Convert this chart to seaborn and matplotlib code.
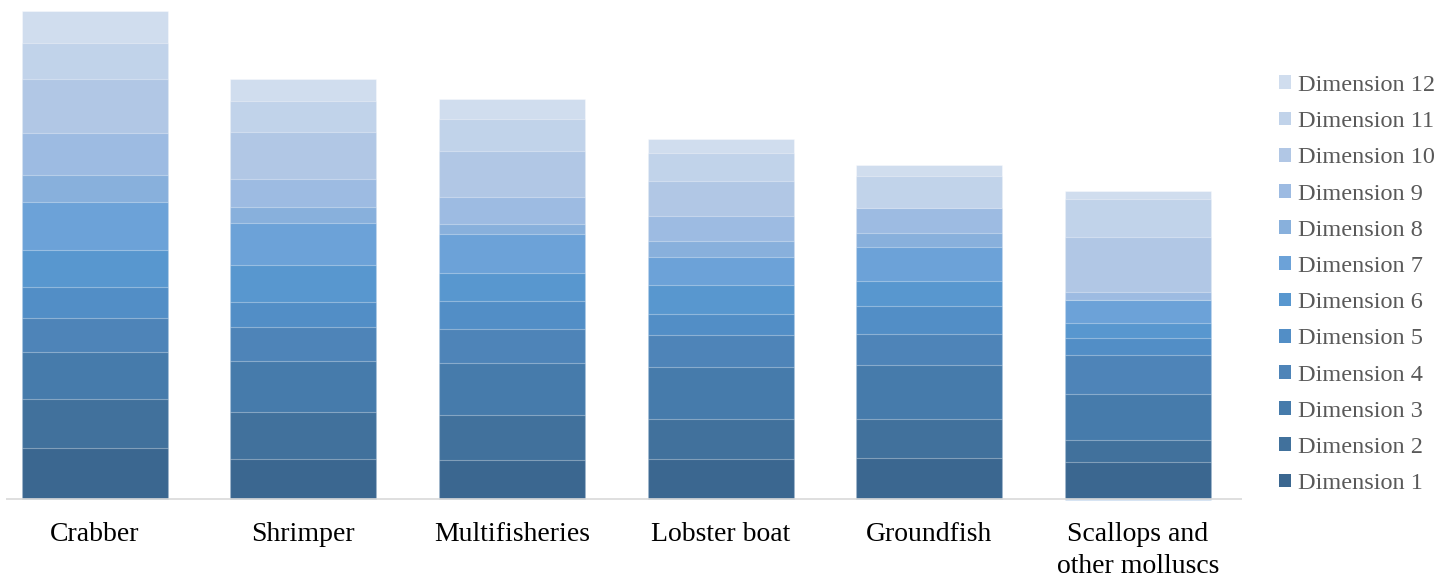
import numpy as np
import pandas as pd
import matplotlib
matplotlib.use("Agg")
import matplotlib.pyplot as plt
from matplotlib.patches import Patch
import seaborn as sns

# Fleet segments (x axis)
categories = ["Crabber", "Shrimper", "Multifisheries", "Lobster boat",
              "Groundfish", "Scallops and\nother molluscs"]

# Contribution of each dimension per fleet segment
dim1 = [5.07, 4.03, 3.93, 3.97, 4.10, 3.67]
dim2 = [4.96, 4.64, 4.50, 4.03, 3.87, 2.20]
dim3 = [4.70, 5.10, 5.14, 5.23, 5.40, 4.60]
dim4 = [3.34, 3.40, 3.46, 3.14, 3.10, 3.90]
dim5 = [3.10, 2.53, 2.74, 2.10, 2.83, 1.70]
dim6 = [3.76, 3.70, 2.83, 2.90, 2.47, 1.53]
dim7 = [4.74, 4.17, 3.90, 2.86, 3.40, 2.33]
dim8 = [2.70, 1.60, 1.03, 1.54, 1.46, -0.12]
dim9 = [4.20, 2.83, 2.70, 2.50, 2.50, 0.77]
dim10 = [5.40, 4.73, 4.60, 3.56, 0.00, 5.53]
dim11 = [3.66, 3.10, 3.20, 2.80, 3.20, 3.80]
dim12 = [3.17, 2.17, 1.94, 1.34, 1.07, 0.77]

dimension_names = [f"Dimension {i}" for i in range(1, 13)]
dimension_values = [dim1, dim2, dim3, dim4, dim5, dim6,
                    dim7, dim8, dim9, dim10, dim11, dim12]

palette = ["#3b6790", "#41719c", "#467bab", "#4e84b8", "#528ec6", "#5897cf",
           "#6ca2d8", "#88b0dc", "#9dbbe2", "#b1c7e5", "#c1d3ea", "#d0ddee"]

sns.set_theme(style="white")
plt.rcParams["font.family"] = ["Liberation Serif", "DejaVu Serif"]

vals = np.array(dimension_values, dtype=float)
pos = np.clip(vals, 0, None)
neg = np.clip(vals, None, 0)
pos_top = np.cumsum(pos, axis=0)          # upper edge of each positive segment
neg_bottom = np.cumsum(neg, axis=0)       # lower edge of each negative segment

fig = plt.figure(figsize=(14.54, 5.80), dpi=100)
W, H = 1454, 580
ax = fig.add_axes([6 / W, (H - 501) / H, (1242 - 6) / W, (501 - 5) / H])

edge = (1, 1, 1, 0.35)

# Stacked bars: draw cumulative totals from the top dimension downward,
# so each lower stack overlays the one above it.
for i in range(11, -1, -1):
    df = pd.DataFrame({"segment": categories, "value": pos_top[i]})
    sns.barplot(data=df, x="segment", y="value", color=palette[i],
                saturation=1, width=0.7, edgecolor=edge, linewidth=0.8,
                ax=ax, errorbar=None)

# Negative contributions hang below the baseline
for i in range(11, -1, -1):
    if (neg[i] < 0).any():
        df = pd.DataFrame({"segment": categories, "value": neg_bottom[i]})
        sns.barplot(data=df, x="segment", y="value", color=palette[i],
                    saturation=1, width=0.7, edgecolor=edge, linewidth=0.8,
                    ax=ax, errorbar=None)

ax.axhline(0, color="#d9d9d9", linewidth=1.2, zorder=5)

ax.set_xlim(-0.426, 5.5)
ax.set_ylim(-0.2, 49.4)
ax.set_xlabel("")
ax.set_ylabel("")
ax.set_yticks([])
for s in ax.spines.values():
    s.set_visible(False)
ax.tick_params(axis="x", length=0, pad=15, labelsize=20, labelcolor="#000000")
for lbl in ax.get_xticklabels():
    lbl.set_linespacing(1.4)

handles = [Patch(facecolor=palette[i], edgecolor="none", label=dimension_names[i])
           for i in range(11, -1, -1)]
fig.legend(handles=handles, loc="upper left",
           bbox_to_anchor=(1279 / W, 1 - 75 / H), frameon=False,
           fontsize=17.5, labelcolor="#595959",
           handlelength=0.5, handleheight=0.5, handletextpad=0.3,
           labelspacing=0.625, borderpad=0, borderaxespad=0)

fig.savefig("out.png", dpi=100, facecolor="white")
